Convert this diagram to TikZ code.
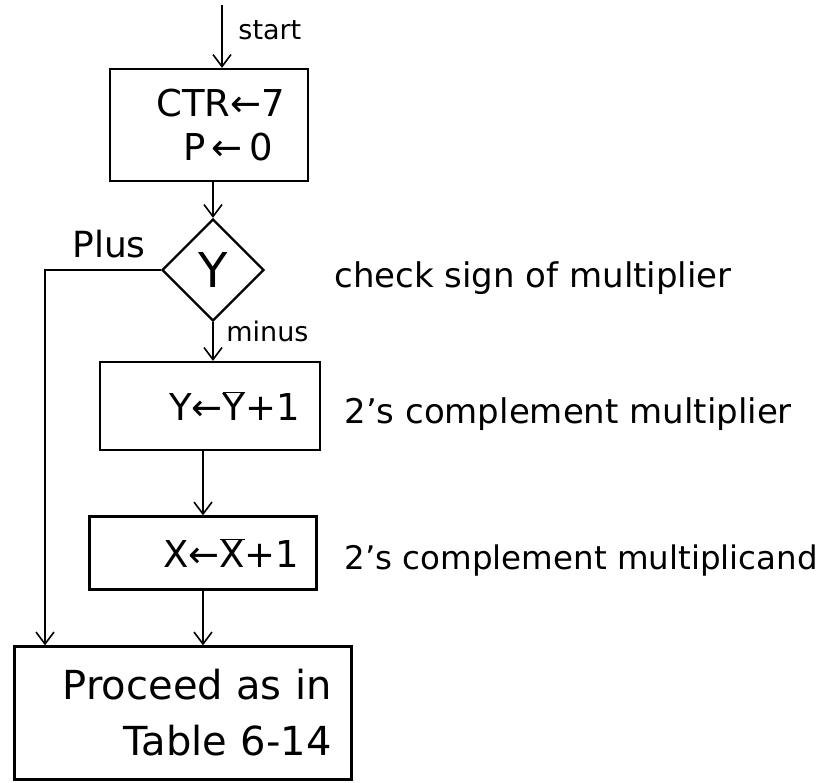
\documentclass[tikz,border=0pt]{standalone}
\usepackage{fontspec}
\setmainfont{DejaVu Sans}
\usetikzlibrary{arrows.meta,shapes.geometric,positioning}
\newcommand{\barred}[1]{\(\overline{\hbox{#1}}\)}

\begin{document}
\begin{tikzpicture}[x=1pt,y=-1pt,line width=2.2pt,
  flow/.style={line width=1.8pt,-{Straight Barb[length=12pt,width=18pt,line width=1.6pt]}},
  opbox/.style={draw,rectangle,align=right,inner sep=0pt,font=\fontsize{37}{44}\selectfont},
  test/.style={draw,diamond,aspect=1,minimum width=102pt,minimum height=102pt,inner sep=0pt,font=\fontsize{48}{50}\selectfont},
  remark/.style={anchor=base west,font=\fontsize{34}{40}\selectfont},
  tag/.style={anchor=base west,font=\fontsize{27}{30}\selectfont}]
  \useasboundingbox (0,0) rectangle (831,783);
  % boxes and test
  \node[opbox,minimum width=198pt,minimum height=112pt,text width=152pt] (init) at (209,125) {CTR←7\\P\,←\,0\,\,};
  \node[test] (signy) at (213,270) {Y};
  \node[opbox,minimum width=220pt,minimum height=88pt,text width=180pt] (negy) at (210,406) {Y←\barred{Y}+1};
  \node[opbox,minimum width=227pt,minimum height=73pt,text width=193pt] (negx) at (203,553) {X←\barred{X}+1};
  \node[opbox,minimum width=337pt,minimum height=133pt,text width=297pt,font=\fontsize{40}{56}\selectfont] (proceed) at (183,713) {Proceed as in\\Table 6-14};
  % free ends
  \coordinate (entry) at (222,5);
  \coordinate (bypass) at (45,0);
  % connectors
  \draw[flow] (entry) -- (entry |- init.north);
  \draw[flow] (init.south -| signy) -- (signy.north);
  \draw[flow] (signy.south) -- (signy.south |- negy.north);
  \draw[flow] (negx.north |- negy.south) -- (negx.north);
  \draw[flow] (negx.south) -- (negx.south |- proceed.north);
  \draw[flow] (signy.west) -| (bypass |- proceed.north);
  % labels
  \node[tag] (startlbl) at (234,40) {start};
  \node[tag,font=\fontsize{36}{40}\selectfont] (pluslbl) at (68,258) {Plus};
  \node[tag] (minuslbl) at (222,342) {minus};
  \node[remark] (signnote) at (330,288) {check sign of multiplier};
  \node[remark] (ynote) at (340,424) {2's complement multiplier};
  \node[remark,font=\fontsize{32.5}{40}\selectfont] (xnote) at (340,570) {2's complement multiplicand};
\end{tikzpicture}
\end{document}
